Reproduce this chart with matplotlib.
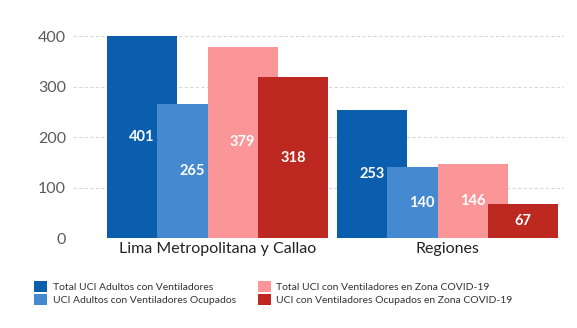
import matplotlib
matplotlib.use("Agg")
import matplotlib.pyplot as plt
import numpy as np
from matplotlib.patches import Patch

categories = ["Lima Metropolitana y Callao", "Regiones"]
series_names = [
    "Total UCI Adultos con Ventiladores",
    "UCI Adultos con Ventiladores Ocupados",
    "Total UCI con Ventiladores en Zona COVID-19",
    "UCI con Ventiladores Ocupados en Zona COVID-19",
]
values = [
    [401, 253],
    [265, 140],
    [379, 146],
    [318, 67],
]
colors = ["#0B5EAE", "#4589D1", "#FB9698", "#BD2820"]
yticks = [0, 100, 200, 300, 400]

plt.rcParams['font.family'] = ['Lato', 'DejaVu Sans']

fig = plt.figure(figsize=(5.77, 3.28), dpi=100)
ax = fig.add_axes([73/577, 1-238/328, (564-73)/577, (238-31)/328])

x = np.arange(len(categories))
step = 0.219
width = 0.304
for i, (vals, c) in enumerate(zip(values, colors)):
    pos = x + (i - 1.5) * step
    ax.bar(pos, vals, width=width, color=c, zorder=2 + i, linewidth=0)
    for p, v in zip(pos, vals):
        ax.text(p, v / 2, str(v), ha='center', va='center', color='white',
                fontsize=10.5, fontweight='bold', zorder=10)

ax.set_xlim(-0.628, 1.507)
ax.set_ylim(0, 410)
ax.set_yticks(yticks)
ax.set_yticklabels([str(t) for t in yticks], fontsize=11.5, color='#5a5a5a')
ax.set_xticks(x)
ax.set_xticklabels(categories, fontsize=11.5, color='#222222')
ax.tick_params(axis='both', length=0)
ax.tick_params(axis='y', pad=5)
ax.tick_params(axis='x', pad=3)
for s in ax.spines.values():
    s.set_visible(False)
ax.yaxis.grid(True, linestyle=(0, (3, 2)), color='#D8D8D8', linewidth=0.8, zorder=0)
ax.set_axisbelow(True)

handles = [Patch(facecolor=c, edgecolor='none') for c in colors]
fig.legend(handles, series_names,
           ncol=2, loc='upper left', bbox_to_anchor=(25/577, 1-272/328),
           frameon=False, fontsize=7.5, handlelength=1.25, handleheight=1.25,
           handletextpad=0.5, columnspacing=2.1, labelspacing=0.15,
           labelcolor='#333333')

fig.savefig("out.png", dpi=100)
